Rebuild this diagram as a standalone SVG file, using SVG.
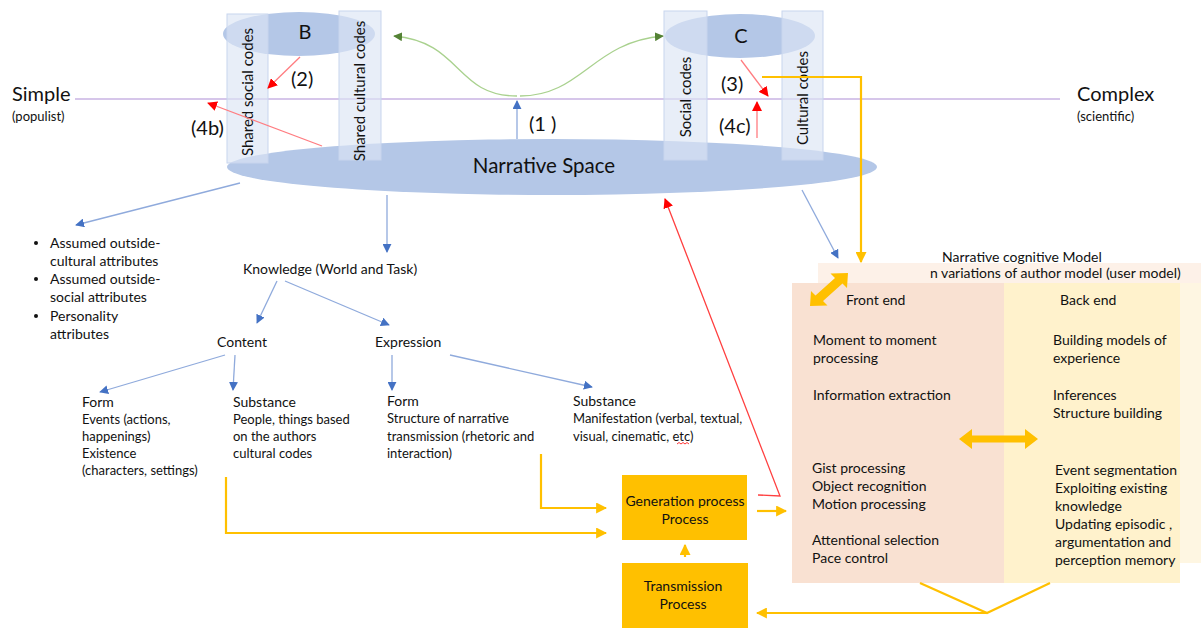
<svg xmlns="http://www.w3.org/2000/svg" width="1201" height="628" viewBox="0 0 1201 628">
<style>
text{font-family:Lato,"Open Sans","Liberation Sans",sans-serif;fill:#111111}
.t{font-size:14px}
.s{font-size:13px}
.r{font-size:15px}
.lbl{font-size:20px}
.col{fill:#dce5f4;fill-opacity:0.65;stroke:#c8d5ee;stroke-width:1}
.blue{stroke:#8faadc;stroke-width:1.3;fill:none;marker-end:url(#ab)}
.red{stroke:#ff7c80;stroke-width:1.3;fill:none;marker-end:url(#ar)}
.org{stroke:#ffc000;stroke-width:2.2;fill:none}
.box{fill:#ffc000}
</style>
<defs>
<marker id="ab" viewBox="0 0 10 10" refX="9" refY="5" markerWidth="9" markerHeight="9" markerUnits="userSpaceOnUse" orient="auto"><path d="M0,0L10,5L0,10z" fill="#4472c4"/></marker>
<marker id="ar" viewBox="0 0 10 10" refX="9" refY="5" markerWidth="10" markerHeight="10" markerUnits="userSpaceOnUse" orient="auto"><path d="M0,0L10,5L0,10z" fill="#ff0000"/></marker>
<marker id="ag" viewBox="0 0 10 10" refX="9" refY="5" markerWidth="9" markerHeight="9" markerUnits="userSpaceOnUse" orient="auto"><path d="M0,0L10,5L0,10z" fill="#548235"/></marker>
<marker id="ao" viewBox="0 0 10 10" refX="9" refY="5" markerWidth="11" markerHeight="11" markerUnits="userSpaceOnUse" orient="auto"><path d="M0,0L10,5L0,10z" fill="#ffc000"/></marker>
</defs>
<rect width="1201" height="628" fill="#ffffff"/>

<!-- scale line -->
<g id="scale">
<line x1="75" y1="99" x2="1060" y2="99" stroke="#c9b3e3" stroke-width="1.3"/>
<text x="12" y="101" style="font-size:20px">Simple</text>
<text x="12" y="121" class="s">(populist)</text>
<text x="1077" y="101" style="font-size:20px">Complex</text>
<text x="1077" y="121" class="s">(scientific)</text>
</g>

<!-- right panel backgrounds -->
<g id="cognitive-model">
<rect x="818" y="263" width="383" height="300" fill="#fdf1e8"/>
<rect x="792" y="283" width="212" height="300" fill="#f9e1d2"/>
<rect x="1004" y="283" width="176" height="300" fill="#fff2cc"/>
<rect x="1180" y="283" width="21" height="280" fill="#fef6e2"/>
<text x="942" y="262" class="t">Narrative cognitive Model</text>
<text x="930" y="278" class="t">n variations of author model (user model)</text>
<text x="846" y="305" class="t">Front end</text>
<text x="1060" y="305" class="t">Back end</text>
<text x="813" y="345" class="t">Moment to moment</text>
<text x="813" y="363" class="t">processing</text>
<text x="813" y="400" class="t">Information extraction</text>
<text x="812" y="473" class="t">Gist processing</text>
<text x="812" y="491" class="t">Object recognition</text>
<text x="812" y="509" class="t">Motion processing</text>
<text x="812" y="545" class="t">Attentional selection</text>
<text x="812" y="563" class="t">Pace control</text>
<text x="1053" y="345" class="t">Building models of</text>
<text x="1053" y="363" class="t">experience</text>
<text x="1053" y="400" class="t">Inferences</text>
<text x="1053" y="418" class="t">Structure building</text>
<text x="1055" y="475" class="t">Event segmentation</text>
<text x="1055" y="493" class="t">Exploiting existing</text>
<text x="1055" y="511" class="t">knowledge</text>
<text x="1055" y="529" class="t">Updating episodic ,</text>
<text x="1055" y="547" class="t">argumentation and</text>
<text x="1055" y="565" class="t">perception memory</text>
<polygon points="959,439 972,429 972,435.5 1025,435.5 1025,429 1038,439 1025,449 1025,442.5 972,442.5 972,449" fill="#ffc000"/>
<polygon points="810,306 811,291 815.5,295.5 835,278 830.5,273.5 848,273 847,288 842.5,283.5 823,301 827.5,305.5" fill="#ffc000"/>
</g>

<!-- ellipses -->
<g id="narrative-space">
<ellipse cx="552" cy="167" rx="325" ry="28" fill="#b4c7e7"/>
<text x="544" y="173" text-anchor="middle" style="font-size:20.5px">Narrative Space</text>
</g>
<g id="node-B">
<ellipse cx="299" cy="34" rx="76" ry="22" fill="#b4c7e7"/>
<text x="305" y="39" text-anchor="middle" style="font-size:20px">B</text>
</g>
<g id="node-C">
<ellipse cx="740" cy="36" rx="75" ry="22" fill="#b4c7e7"/>
<text x="741" y="43" text-anchor="middle" style="font-size:20px">C</text>
</g>

<!-- code columns -->
<g id="shared-social-codes">
<rect x="227" y="14" width="41" height="149" class="col"/>
<text transform="translate(253,92) rotate(-90)" text-anchor="middle" class="r">Shared social codes</text>
</g>
<g id="shared-cultural-codes">
<rect x="339" y="11" width="42" height="149" class="col"/>
<text transform="translate(365,91) rotate(-90)" text-anchor="middle" class="r">Shared cultural codes</text>
</g>
<g id="social-codes">
<rect x="664" y="11" width="43" height="149" class="col"/>
<text transform="translate(691,97) rotate(-90)" text-anchor="middle" class="r">Social codes</text>
</g>
<g id="cultural-codes">
<rect x="782" y="11" width="41" height="149" class="col"/>
<text transform="translate(808,98) rotate(-90)" text-anchor="middle" class="r">Cultural codes</text>
</g>

<!-- labels -->
<g id="labels">
<text x="291" y="86" class="lbl">(2)</text>
<text x="191" y="135" class="lbl">(4b)</text>
<text x="529" y="131" class="lbl">(1 )</text>
<text x="721" y="91" class="lbl">(3)</text>
<text x="719" y="133" class="lbl">(4c)</text>
</g>

<!-- tree texts -->
<g id="attributes">
<circle cx="36" cy="243" r="2" fill="#111111"/>
<circle cx="36" cy="279" r="2" fill="#111111"/>
<circle cx="36" cy="316" r="2" fill="#111111"/>
<text x="50" y="248" class="t">Assumed outside-</text>
<text x="50" y="266" class="t">cultural attributes</text>
<text x="50" y="284" class="t">Assumed outside-</text>
<text x="50" y="302" class="t">social attributes</text>
<text x="50" y="321" class="t">Personality</text>
<text x="50" y="339" class="t">attributes</text>
</g>
<g id="knowledge"><text x="243" y="274" class="t">Knowledge (World and Task)</text></g>
<g id="content"><text x="217" y="347" class="t">Content</text></g>
<g id="expression"><text x="375" y="347" class="t">Expression</text></g>
<g id="content-form">
<text x="82" y="407" class="t">Form</text>
<text x="82" y="424" class="s">Events (actions,</text>
<text x="82" y="441" class="s">happenings)</text>
<text x="82" y="458" class="s">Existence</text>
<text x="82" y="475" class="s">(characters, settings)</text>
</g>
<g id="content-substance">
<text x="233" y="407" class="t">Substance</text>
<text x="233" y="424" class="s">People, things based</text>
<text x="233" y="441" class="s">on the authors</text>
<text x="233" y="458" class="s">cultural codes</text>
</g>
<g id="expression-form">
<text x="387" y="406" class="t">Form</text>
<text x="387" y="423" class="s">Structure of narrative</text>
<text x="387" y="441" class="s">transmission (rhetoric and</text>
<text x="387" y="458" class="s">interaction)</text>
</g>
<g id="expression-substance">
<text x="573" y="406" class="t">Substance</text>
<text x="573" y="423" class="s">Manifestation (verbal, textual,</text>
<text x="573" y="441" class="s">visual, cinematic, etc)</text>
<path d="M677,444 l2,-1.5 l2,1.5 l2,-1.5 l2,1.5 l2,-1.5 l2,1.5" stroke="#ff0000" stroke-width="0.8" fill="none"/>
</g>

<!-- process boxes -->
<g id="generation">
<rect x="622" y="475" width="125" height="65" class="box"/>
<text x="685" y="506" text-anchor="middle" class="t">Generation process</text>
<text x="685" y="524" text-anchor="middle" class="t">Process</text>
</g>
<g id="transmission">
<rect x="622" y="563" width="126" height="65" class="box"/>
<text x="683" y="591" text-anchor="middle" class="t">Transmission</text>
<text x="683" y="609" text-anchor="middle" class="t">Process</text>
</g>

<!-- connectors -->
<g id="connectors">
<path d="M517,96 C455,96 462,42 394,36" stroke="#a9d18e" stroke-width="1.3" fill="none" marker-end="url(#ag)"/>
<path d="M520,96 C582,96 592,42 663,36" stroke="#a9d18e" stroke-width="1.3" fill="none" marker-end="url(#ag)"/>
<line x1="517" y1="139" x2="517" y2="101" class="blue"/>
<line x1="300" y1="57" x2="268" y2="88" class="red"/>
<line x1="322" y1="146" x2="208" y2="103" class="red"/>
<line x1="741" y1="60" x2="768" y2="96" class="red"/>
<line x1="757" y1="138" x2="757" y2="102" class="red"/>
<line x1="240" y1="183" x2="76" y2="225" class="blue"/>
<line x1="387" y1="195" x2="387" y2="252" class="blue"/>
<line x1="802" y1="190" x2="838" y2="258" class="blue"/>
<line x1="277" y1="281" x2="257" y2="323" class="blue"/>
<line x1="285" y1="281" x2="389" y2="325" class="blue"/>
<line x1="225" y1="355" x2="100" y2="392" class="blue"/>
<line x1="235" y1="355" x2="233" y2="390" class="blue"/>
<line x1="392" y1="355" x2="392" y2="390" class="blue"/>
<line x1="450" y1="355" x2="592" y2="387" class="blue"/>
<polyline points="758,495 780,496 665,199" stroke="#ff4040" stroke-width="1.3" fill="none" marker-end="url(#ar)"/>
<polyline points="762,77 861,77 861,262" class="org" marker-end="url(#ao)"/>
<polyline points="541,454 541,508 606,508" class="org" marker-end="url(#ao)"/>
<polyline points="226,477 226,533 606,533" class="org" marker-end="url(#ao)"/>
<line x1="757" y1="511" x2="786" y2="511" class="org" marker-end="url(#ao)"/>
<line x1="685" y1="557" x2="685" y2="545" class="org" marker-end="url(#ao)"/>
<polyline points="920,583 987,613 1050,583" class="org"/>
<line x1="987" y1="613" x2="757" y2="613" class="org" marker-end="url(#ao)"/>
</g>
</svg>
